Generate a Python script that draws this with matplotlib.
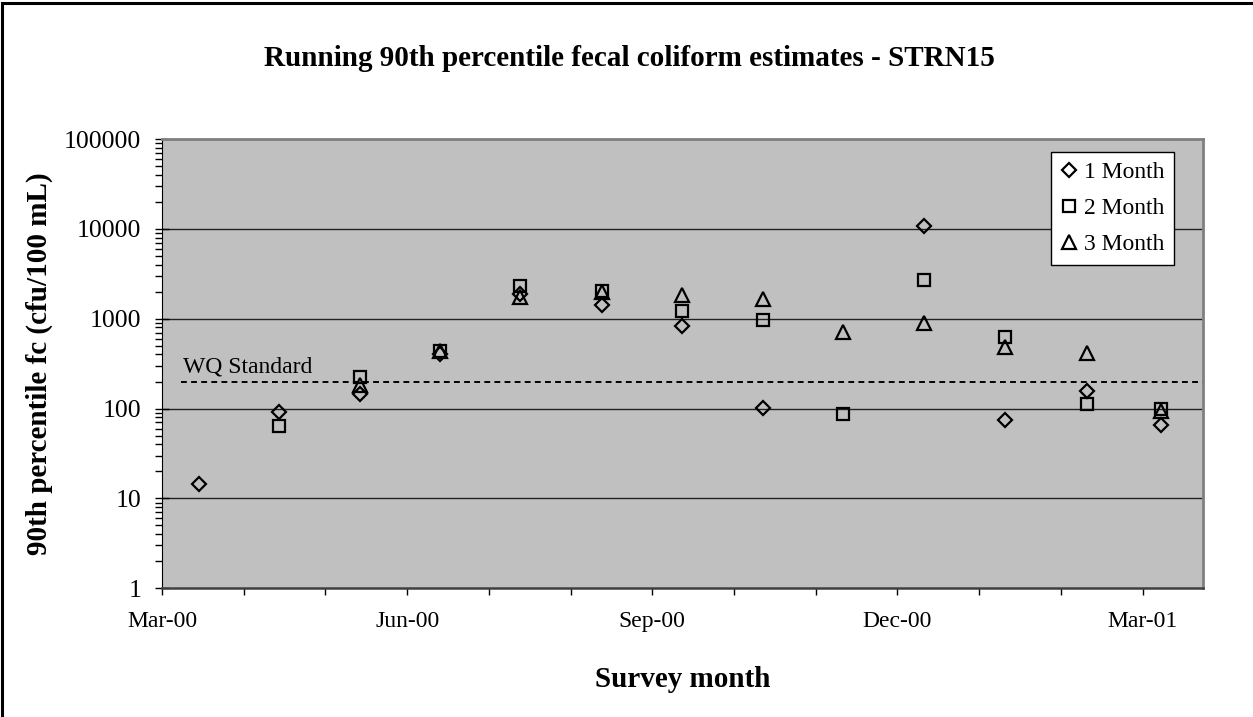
import calendar
import numpy as np
import matplotlib
matplotlib.use('Agg')
import matplotlib.pyplot as plt
from matplotlib.patches import Rectangle
from matplotlib.ticker import FixedLocator, FixedFormatter, NullFormatter

plt.rcParams['font.family'] = ['Liberation Serif', 'DejaVu Serif']

# --- data ---
survey_dates = ['2000-03-15', '2000-04-14', '2000-05-14', '2000-06-13', '2000-07-13',
                '2000-08-13', '2000-09-12', '2000-10-12', '2000-11-11', '2000-12-11',
                '2001-01-11', '2001-02-10', '2001-03-08']
nan = np.nan
one_month = [14.5, 91, 147, 409, 1900, 1430, 828, 101, nan, 10650, 74, 157, 65]
two_month = [nan, 64, 223, 436, 2330, 2010, 1210, 960, 88, 2700, 625, 112, 98]
three_month = [nan, nan, 185, 440, 1740, 1975, 1860, 1640, 710, 902, 483, 415, 94]
wq_standard = 200

month_ticks = list(range(13))            # months since Mar-00
major_ticks = [0, 3, 6, 9, 12]
major_labels = ['Mar-00', 'Jun-00', 'Sep-00', 'Dec-00', 'Mar-01']
y_ticks = [1, 10, 100, 1000, 10000, 100000]


def month_pos(s):
    # month axis with equal width months (like the Excel date axis)
    y, m, d = (int(p) for p in s.split('-'))
    ndays = calendar.monthrange(y, m)[1]
    return (y - 2000) * 12 + (m - 3) + (d - 1) / ndays


x = np.array([month_pos(s) for s in survey_dates])

fig = plt.figure(figsize=(12.53, 7.17), dpi=100)
ax = fig.add_axes([162 / 1253, 1 - 588.3 / 717, 1041 / 1253, 449.3 / 717])
ax.set_facecolor('#C0C0C0')

# figure border (only top and left visible in the original crop)
fig.add_artist(Rectangle((0.0015, -0.5), 1.5, 1.4965, transform=fig.transFigure,
                         fill=False, edgecolor='black', linewidth=2.2))

ax.set_yscale('log')
ax.set_ylim(1, 100000)
ax.set_xlim(0, 12.74)

for v in y_ticks[1:-1]:
    ax.axhline(v, color='#222222', linewidth=1.0, zorder=1)

ax.axhline(wq_standard, xmin=0.235 / 12.74, color='black', linestyle=(0, (3, 2.2)),
           linewidth=1.4, zorder=2)
ax.text(0.26, wq_standard * 1.1, 'WQ Standard', fontsize=17, ha='left', va='bottom')

mk = dict(linestyle='none', markerfacecolor='none', markeredgecolor='black',
          markeredgewidth=1.6, zorder=3)
ax.plot(x, one_month, marker='D', markersize=6.8, label='1 Month', **mk)
ax.plot(x, two_month, marker='s', markersize=9, label='2 Month', **mk)
ax.plot(x, three_month, marker='^', markersize=9.5, label='3 Month', **mk)

# axes
ax.yaxis.set_major_locator(FixedLocator(y_ticks))
ax.yaxis.set_major_formatter(FixedFormatter([str(v) for v in y_ticks]))
minors = [m * 10 ** e for e in range(0, 5) for m in range(2, 10)]
ax.yaxis.set_minor_locator(FixedLocator(minors))
ax.yaxis.set_minor_formatter(NullFormatter())
ax.tick_params(axis='y', which='major', direction='inout', length=10, width=1,
               labelsize=18.5, pad=10)
ax.tick_params(axis='y', which='minor', direction='out', length=5, width=1)

ax.xaxis.set_major_locator(FixedLocator(major_ticks))
ax.xaxis.set_major_formatter(FixedFormatter(major_labels))
ax.xaxis.set_minor_locator(FixedLocator(month_ticks))
ax.tick_params(axis='x', which='both', direction='out', length=5, width=1,
               labelsize=17, pad=11)

for side in ['top', 'right']:
    ax.spines[side].set_color('#808080')
    ax.spines[side].set_linewidth(2)
ax.spines['left'].set_color('black')
ax.spines['bottom'].set_color('#404040')
ax.spines['bottom'].set_linewidth(1.8)

ax.set_xlabel('Survey month', fontsize=21, fontweight='bold')
ax.xaxis.set_label_coords(0.5, -0.172)
ax.set_ylabel('90th percentile fc (cfu/100 mL)', fontsize=21, fontweight='bold')
ax.yaxis.set_label_coords(-0.105, 0.5)

fig.text(629 / 1253, 1 - 58 / 717,
         'Running 90th percentile fecal coliform estimates - STRN15',
         fontsize=21, fontweight='bold', ha='center', va='center')

leg = ax.legend(loc='upper right', bbox_to_anchor=(0.972, 0.971), borderaxespad=0,
                fontsize=17, frameon=True, fancybox=False, framealpha=1,
                edgecolor='black', handlelength=0.7, handletextpad=0.3,
                labelspacing=0.62, borderpad=0.4, markerscale=1.0)
leg.get_frame().set_linewidth(1.0)

fig.savefig('out.png', dpi=100)
